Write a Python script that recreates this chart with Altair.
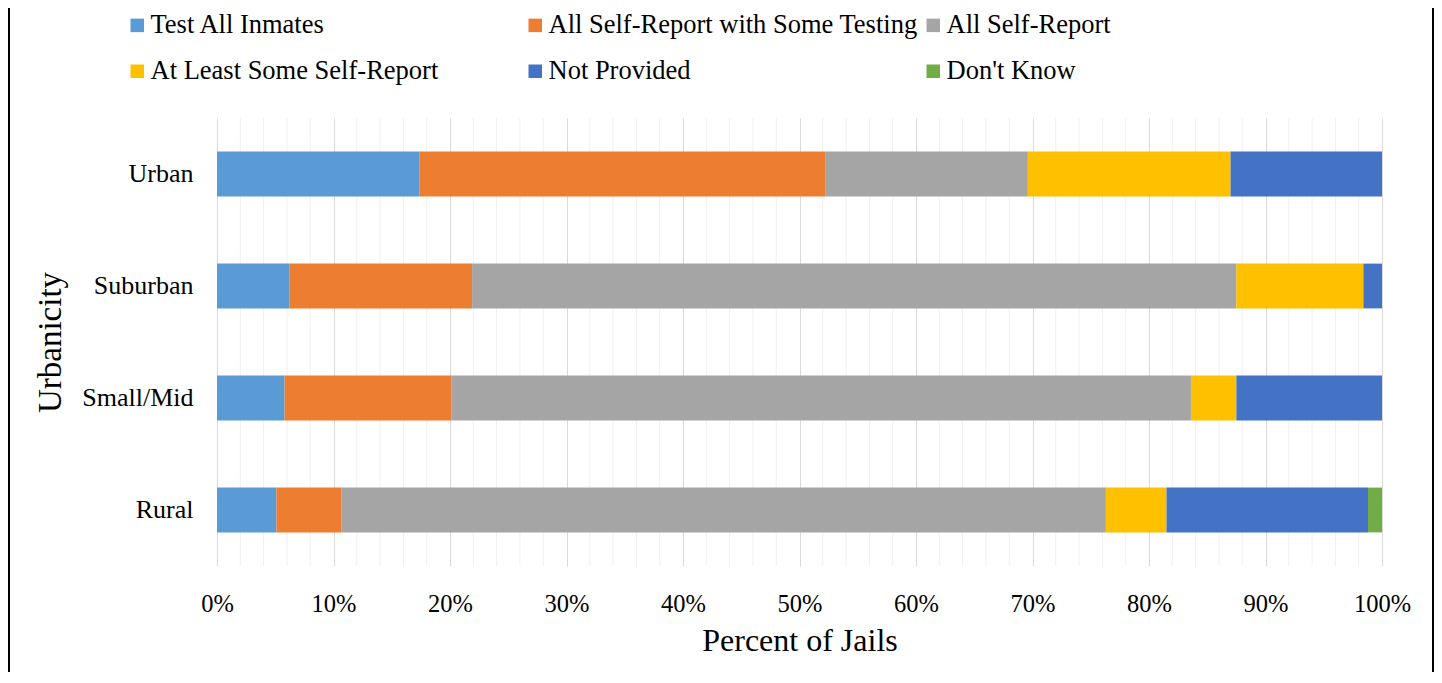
import altair as alt
import pandas as pd

categories = ["Urban", "Suburban", "Small/Mid", "Rural"]
series = ["Test All Inmates", "All Self-Report with Some Testing", "All Self-Report",
          "At Least Some Self-Report", "Not Provided", "Don't Know"]
colors = ["#5B9BD5", "#ED7D31", "#A5A5A5", "#FFC000", "#4472C4", "#70AD47"]

test_all = [17.4, 6.2, 5.8, 5.1]
self_with_testing = [34.8, 15.7, 14.3, 5.6]
all_self = [17.4, 65.6, 63.5, 65.6]
least_some_self = [17.4, 10.9, 3.9, 5.2]
not_provided = [13.0, 1.6, 12.5, 17.3]
dont_know = [0.0, 0.0, 0.0, 1.2]

major_ticks = [0, 10, 20, 30, 40, 50, 60, 70, 80, 90, 100]
minor_ticks = [2, 4, 6, 8, 12, 14, 16, 18, 22, 24, 26, 28, 32, 34, 36, 38,
               42, 44, 46, 48, 52, 54, 56, 58, 62, 64, 66, 68, 72, 74, 76, 78,
               82, 84, 86, 88, 92, 94, 96, 98]

all_values = [test_all, self_with_testing, all_self, least_some_self, not_provided, dont_know]
rows = []
for si, (name, vals) in enumerate(zip(series, all_values)):
    for ci, cat in enumerate(categories):
        rows.append({"category": cat, "series": name, "value": vals[ci], "order": si})
df = pd.DataFrame(rows)
minor_df = pd.DataFrame({"value": minor_ticks})
frame_df = pd.DataFrame({"k": [0]})

FONT = "Liberation Serif"
W, H = 1165, 448
PAD_L, PAD_T = 209, 110
TOTAL_W, TOTAL_H = 1426, 664

xscale = alt.Scale(domain=[0, 100], nice=False, zero=True)
xaxis = alt.Axis(values=major_ticks, grid=True, gridColor="#D9D9D9", gridWidth=1,
                 labelExpr="datum.value + '%'", labelFlush=False, labelAlign="center",
                 domain=False, ticks=False, tickSize=0,
                 labelFont=FONT, labelFontSize=24.5, labelColor="black",
                 labelPadding=26, title="Percent of Jails", titleFont=FONT,
                 titleFontSize=32, titleFontWeight="normal", titleColor="black",
                 titlePadding=10)

minor = alt.Chart(minor_df).mark_rule(color="#F0F0F0", strokeWidth=1).encode(
    x=alt.X("value:Q", scale=xscale, axis=xaxis, title="Percent of Jails")
)

bars = alt.Chart(df).mark_bar().encode(
    x=alt.X("value:Q", stack="zero", scale=xscale, axis=xaxis, title="Percent of Jails"),
    y=alt.Y("category:N", sort=categories,
            scale=alt.Scale(paddingInner=0.6, paddingOuter=0.3),
            axis=alt.Axis(ticks=False, tickSize=0, domain=False, grid=False,
                          labelFont=FONT, labelFontSize=26, labelColor="black",
                          labelPadding=24, title="Urbanicity", titleFont=FONT,
                          titleFontSize=33, titleFontWeight="normal", titleColor="black",
                          titlePadding=14)),
    color=alt.Color("series:N", scale=alt.Scale(domain=series, range=colors),
                    legend=alt.Legend(orient="none", legendX=-93, legendY=-106,
                                      direction="horizontal", columns=3, title=None,
                                      symbolType="square", symbolSize=182,
                                      symbolStrokeWidth=0, labelFont=FONT,
                                      labelFontSize=26.5, labelColor="black",
                                      labelLimit=600, labelOffset=0,
                                      columnPadding=2, rowPadding=19,
                                      gridAlign="all", padding=0)),
    order=alt.Order("order:Q"),
)

frame_left = alt.Chart(frame_df).mark_rule(color="black", strokeWidth=2).encode(
    x=alt.value(-PAD_L + 1), y=alt.value(-PAD_T), y2=alt.value(TOTAL_H - PAD_T)
)
frame_right = alt.Chart(frame_df).mark_rule(color="black", strokeWidth=2).encode(
    x=alt.value(TOTAL_W - PAD_L - 1), y=alt.value(-PAD_T), y2=alt.value(TOTAL_H - PAD_T)
)

chart = alt.layer(minor, bars, frame_left, frame_right).properties(
    width=W, height=H,
    autosize=alt.AutoSizeParams(type="none"),
    padding={"left": PAD_L, "top": PAD_T, "right": TOTAL_W - PAD_L - W, "bottom": TOTAL_H - PAD_T - H},
    background="white",
).configure_view(stroke=None)

chart.save("out.html", embed_options={"renderer": "svg", "actions": False})
